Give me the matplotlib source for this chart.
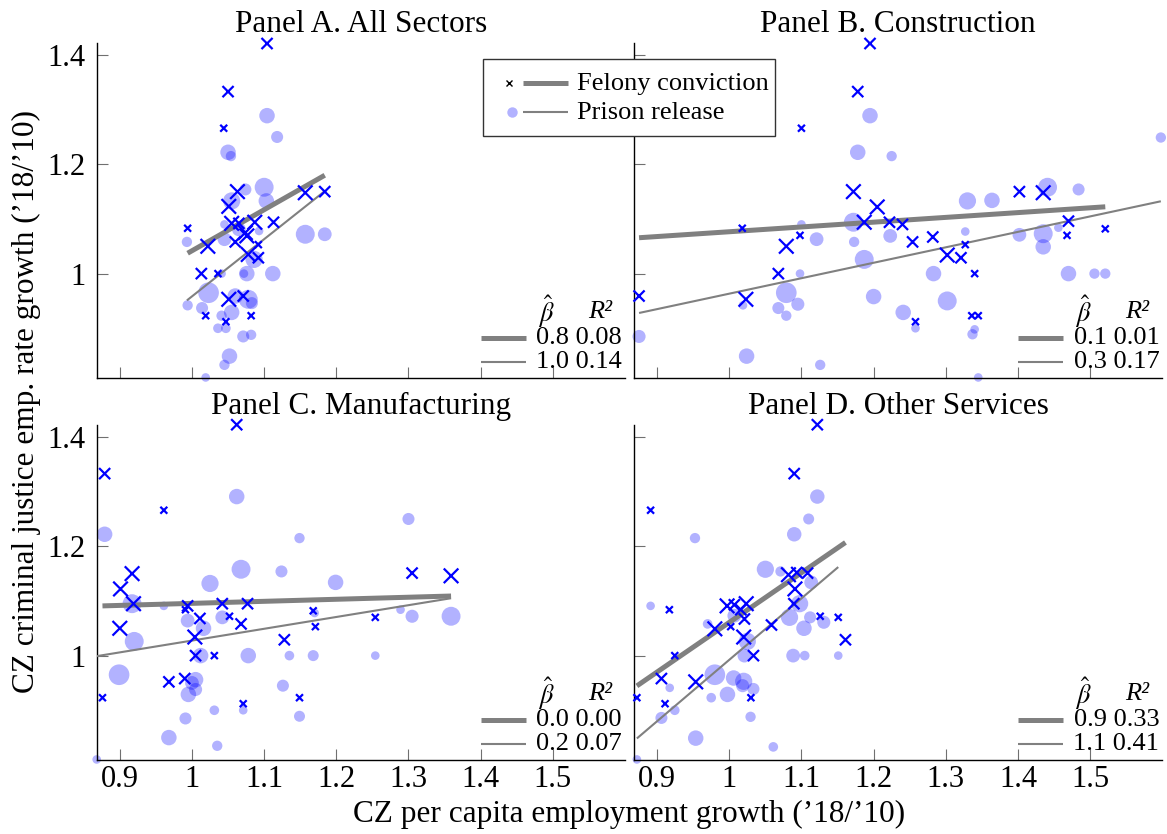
import matplotlib
matplotlib.use("Agg")
import matplotlib.pyplot as plt
from matplotlib.lines import Line2D
from matplotlib.patches import Rectangle

# --- data (x = sector emp. growth, y = CJ emp. growth) ---
# felony conviction CZs (crosses), weight class 1..3
a_fel_x = [1.104, 1.050, 1.044, 0.994, 1.022, 1.063, 1.051, 1.055, 1.065, 1.074, 1.076, 1.060, 1.087,
           1.113, 1.092, 1.078, 1.092, 1.157, 1.184, 1.013, 1.036, 1.051, 1.071, 1.019, 1.082, 1.047]
a_fel_y = [1.421, 1.333, 1.266, 1.083, 1.050, 1.150, 1.123, 1.092, 1.092, 1.075, 1.069, 1.058, 1.094,
           1.094, 1.053, 1.035, 1.029, 1.148, 1.150, 1.000, 1.000, 0.953, 0.959, 0.923, 0.923, 0.912]
a_fel_w = [2, 2, 1, 1, 3, 3, 3, 3, 2, 3, 3, 2, 3, 2, 1, 3, 2, 3, 2, 2, 1, 3, 2, 1, 1, 1]

b_fel_x = [1.195, 1.178, 1.100, 1.018, 1.079, 1.172, 1.205, 1.187, 1.222, 1.240, 1.098, 1.254, 1.282, 1.302,
           1.321, 1.327, 1.340, 1.068, 1.023, 0.875, 1.258, 1.336, 1.345, 1.402, 1.435, 1.470, 1.468, 1.521]
b_fel_y = [1.421, 1.333, 1.266, 1.083, 1.050, 1.150, 1.122, 1.094, 1.094, 1.090, 1.070, 1.058, 1.067, 1.034,
           1.029, 1.053, 1.000, 1.000, 0.953, 0.959, 0.912, 0.923, 0.923, 1.150, 1.148, 1.096, 1.070, 1.082]
b_fel_w = [2, 2, 1, 1, 3, 3, 3, 3, 2, 2, 1, 2, 2, 3, 2, 1, 1, 2, 3, 2, 1, 1, 1, 2, 3, 2, 1, 1]

c_fel_x = [1.062, 0.879, 0.961, 0.876, 0.917, 0.901, 0.919, 0.900, 0.994, 0.991, 1.011, 1.042, 1.052, 1.068,
           1.077, 1.004, 1.005, 1.031, 0.968, 0.990, 1.071, 1.149, 1.128, 1.168, 1.171, 1.254, 1.305, 1.359]
c_fel_y = [1.4225, 1.333, 1.266, 0.923, 1.150, 1.122, 1.095, 1.050, 1.091, 1.084, 1.068, 1.095, 1.072, 1.058,
           1.095, 1.034, 1.000, 1.000, 0.952, 0.958, 0.912, 0.923, 1.029, 1.082, 1.053, 1.070, 1.151, 1.146]
c_fel_w = [2, 2, 1, 1, 3, 3, 3, 3, 2, 1, 2, 2, 1, 2, 2, 3, 2, 1, 2, 2, 1, 1, 2, 1, 1, 1, 2, 3]

d_fel_x = [1.122, 1.090, 0.891, 0.872, 0.917, 0.9245, 0.906, 0.911, 0.9535, 0.980, 0.997, 1.007, 1.016, 1.0235,
           1.002, 1.021, 1.020, 1.0335, 1.030, 1.0585, 1.082, 1.0935, 1.1085, 1.091, 1.0895, 1.126, 1.151, 1.161]
d_fel_y = [1.4225, 1.333, 1.266, 0.923, 1.084, 1.000, 0.958, 0.912, 0.952, 1.049, 1.091, 1.093, 1.084, 1.095,
           1.053, 1.067, 1.034, 1.000, 0.923, 1.056, 1.148, 1.152, 1.151, 1.122, 1.095, 1.072, 1.070, 1.029]
d_fel_w = [2, 2, 1, 1, 1, 1, 2, 1, 3, 3, 3, 2, 2, 3, 1, 2, 3, 2, 1, 2, 3, 2, 2, 3, 2, 1, 1, 2]

# prison release CZs (circles), relative weight
a_pri_x = [1.104, 1.118, 1.050, 1.054, 1.100, 1.074, 1.103, 1.055, 1.157, 1.184, 1.045, 0.993, 1.045, 1.065,
           1.093, 1.086, 1.072, 1.076, 1.112, 1.041, 1.023, 1.060, 1.078, 1.083, 1.055, 0.994, 1.014, 1.041,
           1.036, 1.047, 1.071, 1.082, 1.052, 1.045, 1.019]
a_pri_y = [1.289, 1.250, 1.222, 1.215, 1.158, 1.154, 1.133, 1.133, 1.072, 1.072, 1.090, 1.058, 1.063, 1.081,
           1.078, 1.026, 1.000, 1.000, 1.000, 1.000, 0.965, 0.959, 0.953, 0.946, 0.929, 0.942, 0.937, 0.923,
           0.900, 0.900, 0.885, 0.888, 0.849, 0.833, 0.810]
a_pri_w = [45, 35, 45, 30, 55, 35, 45, 50, 55, 40, 25, 30, 40, 40, 25, 50, 25, 45, 45, 25, 60, 45, 55, 35,
           45, 30, 35, 30, 28, 28, 35, 30, 45, 30, 25]

b_pri_x = [1.195, 1.178, 1.225, 1.598, 1.441, 1.484, 1.330, 1.364, 1.172, 1.100, 1.121, 1.173, 1.223, 1.327,
           1.402, 1.435, 1.435, 1.456, 1.187, 1.098, 1.283, 1.470, 1.506, 1.521, 1.079, 1.095, 1.068, 1.079,
           1.019, 1.200, 1.302, 1.241, 1.340, 1.337, 1.258, 0.875, 1.024, 1.126, 1.345]
b_pri_y = [1.289, 1.222, 1.215, 1.249, 1.158, 1.154, 1.133, 1.134, 1.094, 1.090, 1.063, 1.058, 1.069, 1.077,
           1.071, 1.073, 1.049, 1.084, 1.026, 1.000, 1.000, 1.000, 1.000, 1.000, 0.965, 0.944, 0.937, 0.923,
           0.942, 0.958, 0.950, 0.929, 0.898, 0.889, 0.900, 0.885, 0.849, 0.833, 0.810]
b_pri_w = [45, 45, 30, 30, 55, 35, 50, 45, 55, 25, 40, 30, 40, 25, 40, 55, 45, 25, 55, 25, 45, 45, 30, 30,
           60, 38, 35, 30, 25, 45, 55, 45, 25, 30, 25, 38, 45, 30, 25]

c_pri_x = [1.062, 0.879, 1.149, 1.300, 1.068, 1.124, 1.025, 1.199, 0.917, 0.961, 0.994, 1.042, 1.016, 0.920,
           1.012, 1.078, 1.135, 1.168, 1.254, 1.170, 1.289, 1.305, 1.359, 0.899, 1.005, 1.000, 1.005, 0.995,
           0.991, 1.031, 1.071, 1.126, 1.149, 0.968, 1.035, 0.868]
c_pri_y = [1.291, 1.222, 1.215, 1.250, 1.158, 1.154, 1.132, 1.134, 1.095, 1.091, 1.064, 1.070, 1.050, 1.026,
           1.000, 1.000, 1.000, 1.000, 1.000, 1.078, 1.084, 1.072, 1.072, 0.965, 0.956, 0.950, 0.938, 0.929,
           0.885, 0.900, 0.900, 0.945, 0.889, 0.850, 0.835, 0.810]
c_pri_w = [45, 45, 30, 35, 55, 35, 50, 45, 55, 25, 40, 40, 45, 55, 45, 45, 28, 32, 25, 25, 25, 38, 55, 60,
           45, 40, 38, 45, 35, 28, 25, 35, 32, 45, 30, 25]

d_pri_x = [1.122, 1.110, 1.090, 0.9525, 1.050, 1.071, 1.1135, 0.891, 0.970, 1.007, 1.0975, 1.0835, 1.112,
           1.131, 1.1035, 1.025, 1.021, 1.0885, 1.1045, 1.151, 0.980, 1.006, 1.020, 1.0185, 1.0335, 0.9975,
           0.9175, 0.975, 0.9245, 0.906, 1.0295, 0.9535, 1.061, 0.872]
d_pri_y = [1.291, 1.250, 1.222, 1.215, 1.158, 1.154, 1.134, 1.091, 1.058, 1.073, 1.095, 1.070, 1.070, 1.061,
           1.050, 1.026, 1.000, 1.000, 1.000, 1.000, 0.965, 0.959, 0.953, 0.945, 0.939, 0.929, 0.941, 0.923,
           0.900, 0.886, 0.888, 0.849, 0.833, 0.810]
d_pri_w = [42, 32, 42, 30, 50, 30, 40, 25, 28, 40, 50, 50, 35, 38, 45, 50, 40, 40, 28, 25, 60, 45, 50, 38,
           35, 45, 25, 28, 28, 35, 30, 45, 28, 25]

# fitted lines (slope, intercept) and the reported coefficients
fel_slope = [0.751, 0.0876, 0.0374, 0.908]
fel_icpt = [0.2908, 0.989, 1.0582, 0.1528]
pri_slope = [1.047, 0.2827, 0.2159, 1.124]
pri_icpt = [-0.0887, 0.6806, 0.8116, -0.1317]
beta_fel = ["0.8", "0.1", "0.0", "0.9"]
r2_fel = ["0.08", "0.01", "0.00", "0.33"]
beta_pri = ["1.0", "0.3", "0.2", "1.1"]
r2_pri = ["0.14", "0.17", "0.07", "0.41"]

titles = ["Panel A. All Sectors", "Panel B. Construction", "Panel C. Manufacturing", "Panel D. Other Services"]
xticks = [0.9, 1.0, 1.1, 1.2, 1.3, 1.4, 1.5]
xticklabels = ["0.9", "1", "1.1", "1.2", "1.3", "1.4", "1.5"]
yticks = [1.0, 1.2, 1.4]
yticklabels = ["1", "1.2", "1.4"]

fel_x = [a_fel_x, b_fel_x, c_fel_x, d_fel_x]
fel_y = [a_fel_y, b_fel_y, c_fel_y, d_fel_y]
fel_w = [a_fel_w, b_fel_w, c_fel_w, d_fel_w]
pri_x = [a_pri_x, b_pri_x, c_pri_x, d_pri_x]
pri_y = [a_pri_y, b_pri_y, c_pri_y, d_pri_y]
pri_w = [a_pri_w, b_pri_w, c_pri_w, d_pri_w]

# --- styling ---
plt.rcParams["font.family"] = "serif"
plt.rcParams["font.serif"] = ["Liberation Serif", "DejaVu Serif"]
plt.rcParams["mathtext.fontset"] = "stix"

W, H = 1167, 834
fig = plt.figure(figsize=(W / 100, H / 100), dpi=100)

def px_box(x0, y0, x1, y1):
    # pixel box (top-left origin) -> figure fraction
    return [x0 / W, 1 - y1 / H, (x1 - x0) / W, (y1 - y0) / H]

boxes = [px_box(96.7, 43.3, 625, 378), px_box(634, 43.3, 1162.3, 378),
         px_box(96.7, 425.3, 625, 760), px_box(634, 425.3, 1162.3, 760)]

cross_ms = {1: 5.0, 2: 8.0, 3: 10.5}
gray = "#808080"

for i in range(4):
    ax = fig.add_axes(boxes[i])
    aw = boxes[i][2] * W
    ah = boxes[i][3] * H

    # circles (prison release)
    ax.scatter(pri_x[i], pri_y[i], s=[(w * 0.248) ** 2 for w in pri_w[i]],
               color="blue", alpha=0.3, edgecolors="none", clip_on=False, zorder=2)

    # fitted lines over the data range of each series
    x0, x1 = min(fel_x[i]), max(fel_x[i])
    ax.plot([x0, x1], [fel_icpt[i] + fel_slope[i] * x0, fel_icpt[i] + fel_slope[i] * x1],
            color=gray, lw=3.6, solid_capstyle="butt", zorder=3)
    x0, x1 = min(pri_x[i]), max(pri_x[i])
    ax.plot([x0, x1], [pri_icpt[i] + pri_slope[i] * x0, pri_icpt[i] + pri_slope[i] * x1],
            color=gray, lw=1.5, solid_capstyle="butt", zorder=3)

    # crosses (felony conviction)
    ax.scatter(fel_x[i], fel_y[i], s=[cross_ms[w] ** 2 for w in fel_w[i]], marker="x",
               color="blue", linewidths=1.6, clip_on=False, zorder=4)

    ax.set_xlim(0.868, 1.600)
    ax.set_ylim(0.809, 1.4214)
    ax.spines["top"].set_visible(False)
    ax.spines["right"].set_visible(False)
    ax.spines["left"].set_linewidth(1.0)
    ax.spines["bottom"].set_linewidth(1.0)
    ax.set_xticks(xticks)
    ax.set_yticks(yticks)
    ax.set_xticklabels(xticklabels if i >= 2 else [])
    ax.set_yticklabels(yticklabels if i % 2 == 0 else [])
    ax.tick_params(direction="in", length=8, width=0.8, color="#707070", labelsize=22)
    ax.tick_params(axis="x", pad=3.5)
    ax.tick_params(axis="y", pad=8)
    ax.set_title(titles[i], fontsize=22.5, pad=8)

    # coefficient table in the lower right corner
    def fx(d):
        return 1 - d / aw

    def fy(d):
        return d / ah

    ax.text(fx(79), fy(66), r"$\hat{\beta}$", fontsize=19, ha="center", va="center", transform=ax.transAxes)
    ax.text(fx(25), fy(66), "R\u00b2", fontsize=19, fontstyle="italic", ha="center", va="center",
            transform=ax.transAxes)
    rows = [(40, 3.6, beta_fel[i], r2_fel[i]), (16, 1.5, beta_pri[i], r2_pri[i])]
    for dy, lw, b, r in rows:
        ax.plot([fx(144), fx(99)], [fy(dy), fy(dy)], color=gray, lw=lw, solid_capstyle="butt",
                transform=ax.transAxes, clip_on=False, zorder=5)
        ax.text(fx(3), fy(dy), b + " " + r, fontsize=19, ha="right", va="center", transform=ax.transAxes)

# shared axis labels
fig.text(629 / W, 1 - 814 / H, "CZ per capita employment growth (\u201918/\u201910)", fontsize=22.5,
         ha="center", va="center")
fig.text(26 / W, 1 - 401.5 / H, "CZ criminal justice emp. rate growth (\u201918/\u201910)", fontsize=22.5,
         ha="center", va="center", rotation=90)

# legend box drawn on top of the panels
fig.patches.append(Rectangle((483.3 / W, 1 - 136 / H), (775 - 483.3) / W, (136 - 59.3) / H,
                             transform=fig.transFigure, facecolor="white", edgecolor="#333333",
                             lw=1.0, zorder=10))
for yy, lab, mk, lw in [(83.3, "Felony conviction", "x", 3.6), (111.7, "Prison release", "o", 1.5)]:
    if mk == "x":
        fig.lines.append(Line2D([509 / W], [1 - yy / H], marker="x", ms=5, mew=1.0, color="black",
                                transform=fig.transFigure, zorder=11))
    else:
        fig.lines.append(Line2D([512 / W], [1 - yy / H], marker="o", ms=7.5, mew=0, color="blue",
                                alpha=0.3, transform=fig.transFigure, zorder=11))
    fig.lines.append(Line2D([523 / W, 568 / W], [1 - yy / H, 1 - yy / H], color=gray, lw=lw,
                            solid_capstyle="butt", transform=fig.transFigure, zorder=11))
    fig.text(577 / W, 1 - (yy + 1) / H, lab, fontsize=19, ha="left", va="center", zorder=12)

fig.savefig("out.png", dpi=100)
